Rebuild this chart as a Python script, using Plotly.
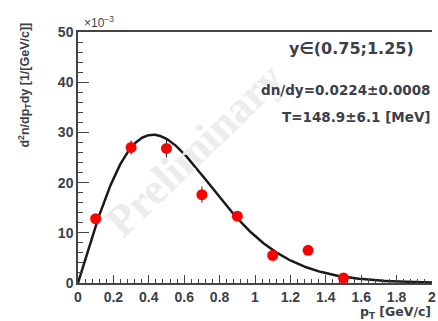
import numpy as np
import plotly.graph_objects as go

# Measured spectrum (values in units of 1e-3)
pt = [0.1, 0.3, 0.5, 0.7, 0.9, 1.1, 1.3, 1.5]
yield_e3 = [12.8, 27.0, 26.8, 17.6, 13.3, 5.5, 6.5, 1.0]
err_e3 = [0.8, 1.4, 1.8, 1.6, 1.0, 0.6, 0.6, 0.3]

# Boltzmann fit parameters
dndy = 0.0224
dndy_err = 0.0008
T_mev = 148.9
T_err = 6.1
mass = 0.938  # GeV/c^2

T = T_mev / 1000.0
pt_fit = np.linspace(0.0, 2.0, 401)
mt = np.sqrt(pt_fit**2 + mass**2)
norm = T * (mass**2 + 2 * mass * T + 2 * T**2)
fit_e3 = dndy * pt_fit * mt * np.exp(-(mt - mass) / T) / norm * 1e3

W, H = 438, 321
L, R, TOP, B = 78, 2, 32, 38
pw, ph = W - L - R, H - TOP - B


def px(x):
    return (x - L) / pw


def py(y):
    return (H - B - y) / ph


TXT = "#3a3f4a"
tick_font = dict(family="Liberation Sans", size=14, color=TXT, weight="bold")

fig = go.Figure()
fig.add_trace(go.Scatter(
    x=pt_fit, y=fit_e3, mode="lines",
    line=dict(color="#1a1a1a", width=2.5), hoverinfo="skip",
))
fig.add_trace(go.Scatter(
    x=pt, y=yield_e3, mode="markers",
    marker=dict(color="#ff0000", size=11, line=dict(width=0)),
    error_y=dict(type="data", array=err_e3, color="#222", thickness=1, width=0),
))

annotations = [
    dict(text="<b>Preliminary</b>", x=px(195), y=py(150), textangle=-44,
         font=dict(family="Liberation Serif", size=44, color="#ececec")),
    dict(text="×10<sup>−3</sup>", x=px(82), y=py(22), xanchor="left",
         font=dict(family="Liberation Sans", size=12, color=TXT)),
    dict(text="<b>y∈(0.75;1.25)</b>", x=px(355), y=py(48),
         font=dict(family="DejaVu Sans", size=16, color=TXT)),
    dict(text=f"<b>dn/dy={dndy:.4f}±{dndy_err:.4f}</b>", x=px(436), y=py(90), xanchor="right",
         font=dict(family="DejaVu Sans", size=13.5, color=TXT)),
    dict(text=f"<b>T={T_mev:.1f}±{T_err:.1f} [MeV]</b>", x=px(437), y=py(117), xanchor="right",
         font=dict(family="DejaVu Sans", size=13.5, color=TXT)),
    dict(text="<b>p<sub>T</sub> [GeV/c]</b>", x=px(437), y=py(312), xanchor="right",
         font=dict(family="DejaVu Sans", size=12.5, color=TXT)),
    dict(text="<b>d<sup>2</sup>n/dp<sub>T</sub>dy [1/[GeV/c]]</b>", x=px(24), y=py(85),
         textangle=-90, font=dict(family="Liberation Sans", size=12.5, color=TXT)),
]
for a in annotations:
    a.setdefault("xref", "paper")
    a.setdefault("yref", "paper")
    a.setdefault("xanchor", "center")
    a.setdefault("yanchor", "middle")
    a.setdefault("showarrow", False)

fig.update_layout(
    width=W, height=H,
    margin=dict(l=L, r=R, t=TOP, b=B),
    paper_bgcolor="white", plot_bgcolor="white",
    showlegend=False,
    annotations=annotations,
    xaxis=dict(
        range=[0, 2], tickvals=[0, 0.2, 0.4, 0.6, 0.8, 1, 1.2, 1.4, 1.6, 1.8, 2],
        ticktext=["0", "0.2", "0.4", "0.6", "0.8", "1", "1.2", "1.4", "1.6", "1.8", "2"],
        ticks="inside", ticklen=8, tickcolor="#444", tickwidth=1,
        minor=dict(dtick=0.04, tick0=0, ticks="inside", ticklen=4, tickcolor="#444"),
        showline=True, linecolor="#444", linewidth=1.5, mirror=True,
        showgrid=False, zeroline=False, tickfont=tick_font,
        ticklabeloverflow="allow",
    ),
    yaxis=dict(
        range=[0, 50], tickvals=[0, 10, 20, 30, 40, 50],
        ticks="inside", ticklen=11, tickcolor="#444", tickwidth=1,
        minor=dict(dtick=2, tick0=0, ticks="inside", ticklen=5, tickcolor="#444"),
        showline=True, linecolor="#444", linewidth=1.5,
        showgrid=False, zeroline=False, tickfont=tick_font,
    ),
)

fig.write_html("out.html")
